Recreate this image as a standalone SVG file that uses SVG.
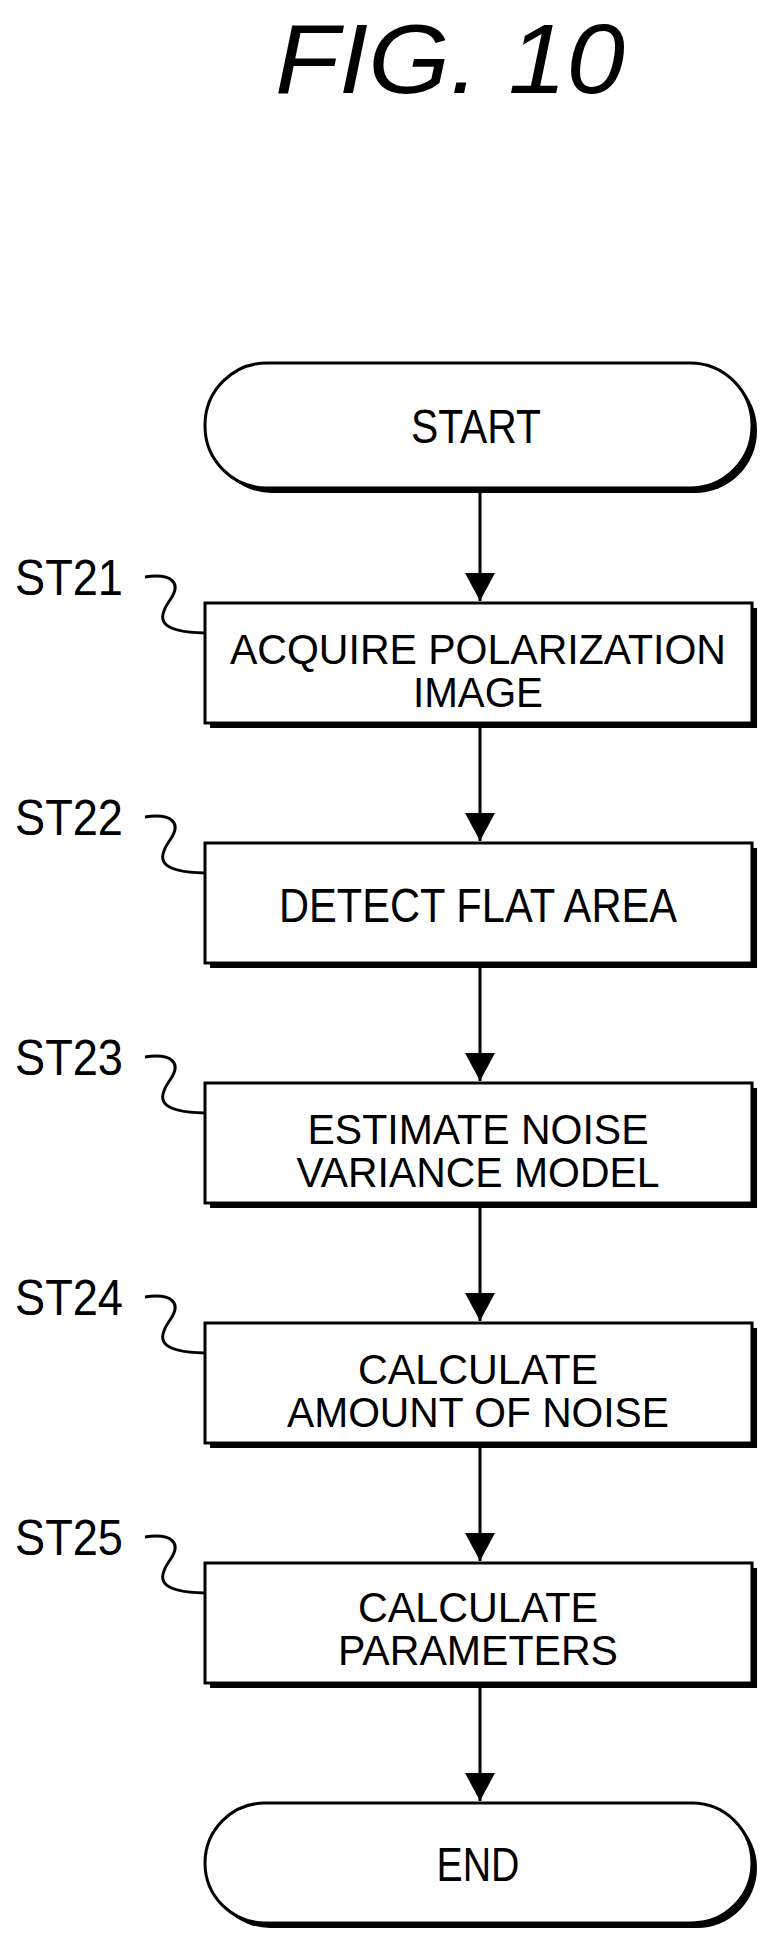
<svg xmlns="http://www.w3.org/2000/svg" width="774" height="1954" viewBox="0 0 774 1954">
<style>
.t{font-family:"Liberation Sans",Arial,sans-serif;font-size:48px;text-anchor:middle;fill:#000}
.t2{font-family:"Liberation Sans",Arial,sans-serif;font-size:43px;text-anchor:middle;fill:#000}
.l{font-family:"Liberation Sans",Arial,sans-serif;font-size:50px;fill:#000}
.s{fill:#000}
.b{fill:#fff;stroke:#000;stroke-width:3}
.c{fill:none;stroke:#000;stroke-width:3}
</style>
<defs>
<marker id="ah" markerWidth="32" markerHeight="30" refX="28" refY="15" orient="auto" markerUnits="userSpaceOnUse"><path d="M0,0 L28,15 L0,30 Z" fill="#000"/></marker></defs>
<text x="450" y="93" font-family="Liberation Sans,Arial,sans-serif" font-size="98" font-style="italic" text-anchor="middle" textLength="350" lengthAdjust="spacingAndGlyphs">FIG. 10</text>
<g id="connectors">
<line class="c" x1="480" y1="492" x2="480" y2="601" marker-end="url(#ah)"/>
<line class="c" x1="480" y1="727" x2="480" y2="841" marker-end="url(#ah)"/>
<line class="c" x1="480" y1="967" x2="480" y2="1081" marker-end="url(#ah)"/>
<line class="c" x1="480" y1="1207" x2="480" y2="1321" marker-end="url(#ah)"/>
<line class="c" x1="480" y1="1447" x2="480" y2="1561" marker-end="url(#ah)"/>
<line class="c" x1="480" y1="1687" x2="480" y2="1801" marker-end="url(#ah)"/>
</g>
<g id="start"><rect class="s" x="210" y="368" width="547" height="125" rx="62"/><rect class="b" x="205" y="363" width="547" height="125" rx="62"/><text class="t" x="476" y="443" textLength="130" lengthAdjust="spacingAndGlyphs">START</text></g>
<g id="st21"><rect class="s" x="210" y="608" width="547" height="120"/><rect class="b" x="205" y="603" width="547" height="120"/><text class="t2" x="478" y="664" textLength="496" lengthAdjust="spacingAndGlyphs">ACQUIRE POLARIZATION</text><text class="t2" x="478" y="707" textLength="130" lengthAdjust="spacingAndGlyphs">IMAGE</text>
<text class="l" x="15" y="595" textLength="108" lengthAdjust="spacingAndGlyphs">ST21</text><path class="c" d="M145,577 C172,573 182,583 170,600 C158,617 155,632 205,633"/></g>
<g id="st22"><rect class="s" x="210" y="848" width="547" height="120"/><rect class="b" x="205" y="843" width="547" height="120"/><text class="t" x="478" y="922" textLength="398" lengthAdjust="spacingAndGlyphs">DETECT FLAT AREA</text>
<text class="l" x="15" y="835" textLength="108" lengthAdjust="spacingAndGlyphs">ST22</text><path class="c" d="M145,817 C172,813 182,823 170,840 C158,857 155,872 205,873"/></g>
<g id="st23"><rect class="s" x="210" y="1088" width="547" height="120"/><rect class="b" x="205" y="1083" width="547" height="120"/><text class="t2" x="478" y="1144" textLength="341" lengthAdjust="spacingAndGlyphs">ESTIMATE NOISE</text><text class="t2" x="478" y="1187" textLength="363" lengthAdjust="spacingAndGlyphs">VARIANCE MODEL</text>
<text class="l" x="15" y="1075" textLength="108" lengthAdjust="spacingAndGlyphs">ST23</text><path class="c" d="M145,1057 C172,1053 182,1063 170,1080 C158,1097 155,1112 205,1113"/></g>
<g id="st24"><rect class="s" x="210" y="1328" width="547" height="120"/><rect class="b" x="205" y="1323" width="547" height="120"/><text class="t2" x="478" y="1384" textLength="240" lengthAdjust="spacingAndGlyphs">CALCULATE</text><text class="t2" x="478" y="1427" textLength="382" lengthAdjust="spacingAndGlyphs">AMOUNT OF NOISE</text>
<text class="l" x="15" y="1315" textLength="108" lengthAdjust="spacingAndGlyphs">ST24</text><path class="c" d="M145,1297 C172,1293 182,1303 170,1320 C158,1337 155,1352 205,1353"/></g>
<g id="st25"><rect class="s" x="210" y="1568" width="547" height="120"/><rect class="b" x="205" y="1563" width="547" height="120"/><text class="t2" x="478" y="1622" textLength="240" lengthAdjust="spacingAndGlyphs">CALCULATE</text><text class="t2" x="478" y="1665" textLength="280" lengthAdjust="spacingAndGlyphs">PARAMETERS</text>
<text class="l" x="15" y="1555" textLength="108" lengthAdjust="spacingAndGlyphs">ST25</text><path class="c" d="M145,1537 C172,1533 182,1543 170,1560 C158,1577 155,1592 205,1593"/></g>
<g id="end"><rect class="s" x="210" y="1808" width="547" height="120" rx="60"/><rect class="b" x="205" y="1803" width="547" height="120" rx="60"/><text class="t" x="478" y="1881" textLength="83" lengthAdjust="spacingAndGlyphs">END</text></g>
</svg>
